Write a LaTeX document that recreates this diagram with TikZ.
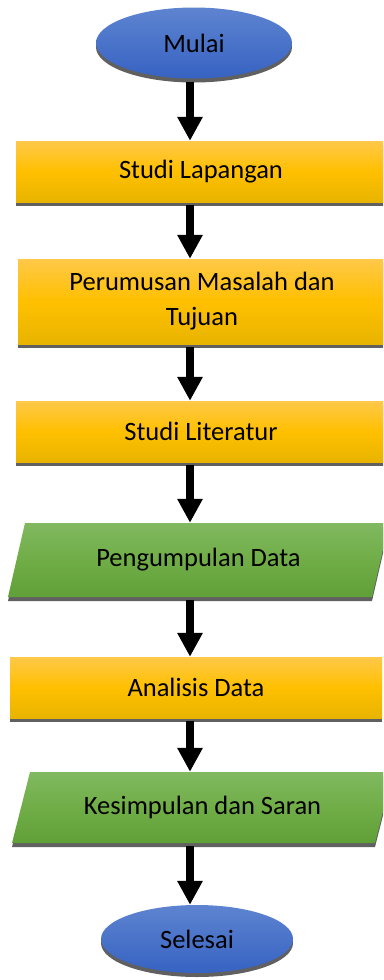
\documentclass[tikz,border=0pt]{standalone}
\usepackage{fontspec}
\setmainfont{Carlito}
\usetikzlibrary{positioning,shapes,arrows.meta,calc,shadows}
\definecolor{termtop}{RGB}{94,132,208}
\definecolor{termbot}{RGB}{54,98,194}
\definecolor{proctop}{RGB}{255,200,72}
\definecolor{procmid}{RGB}{255,192,0}
\definecolor{procbot}{RGB}{232,180,0}
\definecolor{datatop}{RGB}{128,185,96}
\definecolor{datamid}{RGB}{112,173,71}
\definecolor{databot}{RGB}{96,160,56}
\definecolor{shadowgrey}{RGB}{96,96,96}

\begin{document}
\begin{tikzpicture}[x=1pt,y=-1pt,
    font=\fontsize{26.5}{35}\selectfont,
    flatshadow/.style={drop shadow={shadow xshift=0pt,shadow yshift=-4pt,fill=shadowgrey,opacity=1}},
    terminal/.style={ellipse, inner sep=0pt, minimum width=196pt, minimum height=71pt,
        top color=termtop, bottom color=termbot, flatshadow},
    process/.style={rectangle, inner sep=0pt, align=center, minimum width=370pt,
        top color=proctop, bottom color=procbot, middle color=procmid, flatshadow},
    iobox/.style={top color=datatop, bottom color=databot, middle color=datamid, flatshadow},
    iotext/.style={rectangle, inner sep=0pt, minimum height=#1},
    flow/.style={line width=8pt, shorten <=3pt, -{Triangle[width=24pt,length=24pt]}}
]
\useasboundingbox (0,0) rectangle (383,980);
\clip (0,0) rectangle (383,980);

\node[terminal] (mulai) at (194,43) {Mulai};

\node[process, minimum height=61pt] (lapangan) at (201,171.5) {Studi Lapangan};

\node[process, minimum height=85pt, minimum width=368pt] (rumusan) at (202,301.5) {Perumusan Masalah dan\\Tujuan};

\node[process, minimum height=61pt] (literatur) at (201,431.5) {Studi Literatur};

% input/output steps drawn as slanted boxes, text on top
\path[iobox] (25,523) -- (389,523) -- (372,597) -- (8,597) -- cycle;
\node[iotext=74pt] (data) at (198.5,560) {Pengumpulan Data};

\node[process, minimum height=61pt, minimum width=372pt] (analisis) at (196,687.5) {Analisis Data};

\path[iobox] (30,772) -- (393,772) -- (375,843) -- (12,843) -- cycle;
\node[iotext=71pt] (saran) at (202.5,807.5) {Kesimpulan dan Saran};

\node[terminal, minimum width=192pt, minimum height=68pt] (selesai) at (197,939) {Selesai};

% arrows all run down the same line
\coordinate (spine) at (190,0);
\draw[flow] (mulai.south -| spine) -- (lapangan.north -| spine);
\draw[flow] (lapangan.south -| spine) -- (rumusan.north -| spine);
\draw[flow] (rumusan.south -| spine) -- (literatur.north -| spine);
\draw[flow] (literatur.south -| spine) -- (data.north -| spine);
\draw[flow] (data.south -| spine) -- (analisis.north -| spine);
\draw[flow] (analisis.south -| spine) -- (saran.north -| spine);
\draw[flow] (saran.south -| spine) -- (selesai.north -| spine);
\end{tikzpicture}
\end{document}
